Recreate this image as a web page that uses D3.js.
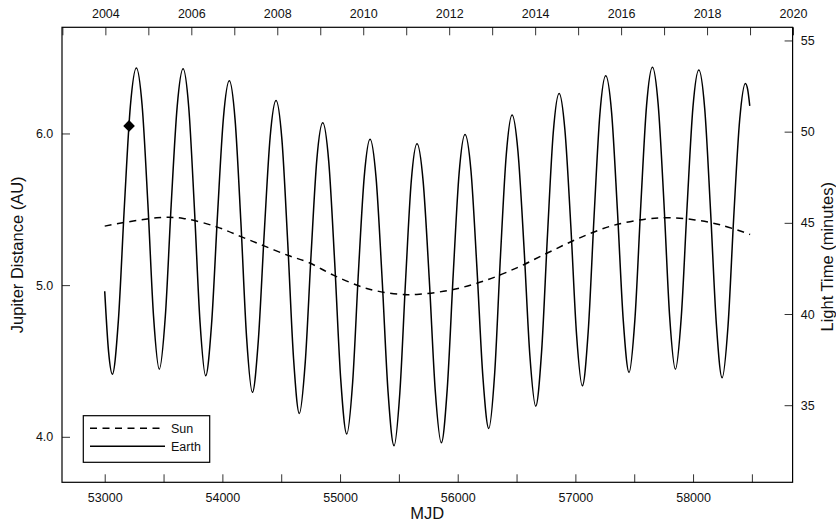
<!DOCTYPE html>
<html>
<head>
<meta charset="utf-8">
<script src="https://cdn.jsdelivr.net/npm/d3@7"></script>
<style>
  html, body { margin: 0; padding: 0; background: #fff; }
  svg { display: block; font-family: "Liberation Sans", Arial, Helvetica, sans-serif; }
</style>
</head>
<body>
<svg id="chart" width="836" height="524"></svg>
<script>
// ---------------- data ----------------
// Earth–Jupiter distance [MJD, AU]
const earthMJD = [
  53000, 53033, 53065, 53116, 53167, 53218, 53269, 53318, 53367, 53415,
  53464, 53515, 53565, 53616, 53666, 53714, 53762, 53810, 53858, 53908,
  53959, 54009, 54059, 54108, 54157, 54206, 54255, 54305, 54356, 54406,
  54456, 54506, 54555, 54605, 54654, 54704, 54754, 54803, 54853, 54904,
  54955, 55006, 55057, 55107, 55156, 55206, 55255, 55306, 55357, 55408,
  55459, 55508, 55557, 55605, 55654, 55706, 55758, 55809, 55861, 55911,
  55962, 56012, 56062, 56113, 56163, 56214, 56264, 56314, 56363, 56413,
  56462, 56512, 56563, 56613, 56663, 56713, 56763, 56812, 56862, 56911,
  56961, 57010, 57059, 57109, 57159, 57208, 57258, 57308, 57357, 57407,
  57456, 57506, 57556, 57605, 57655, 57704, 57753, 57801, 57850, 57900,
  57950, 57999, 58049, 58099, 58148, 58198, 58247, 58297, 58346, 58396,
  58445, 58464, 58482
];
const earthAU = [
  4.96, 4.56, 4.413, 4.766, 5.519, 6.180, 6.432, 6.184, 5.534, 4.794,
  4.446, 4.793, 5.531, 6.179, 6.426, 6.173, 5.511, 4.756, 4.402, 4.742,
  5.468, 6.104, 6.347, 6.090, 5.419, 4.652, 4.293, 4.630, 5.347, 5.977,
  6.217, 5.959, 5.285, 4.515, 4.154, 4.489, 5.204, 5.831, 6.070, 5.814,
  5.142, 4.377, 4.018, 4.358, 5.083, 5.719, 5.962, 5.709, 5.049, 4.295,
  3.941, 4.289, 5.032, 5.683, 5.932, 5.686, 5.041, 4.305, 3.960, 4.316,
  5.074, 5.739, 5.993, 5.751, 5.117, 4.394, 4.055, 4.417, 5.187, 5.863,
  6.121, 5.881, 5.254, 4.538, 4.202, 4.563, 5.332, 6.006, 6.264, 6.023,
  5.393, 4.673, 4.336, 4.694, 5.456, 6.125, 6.380, 6.136, 5.496, 4.766,
  4.424, 4.776, 5.527, 6.185, 6.437, 6.188, 5.537, 4.794, 4.446, 4.791,
  5.527, 6.172, 6.419, 6.165, 5.501, 4.744, 4.389, 4.729, 5.453, 6.087,
  6.330, 6.290, 6.182
];
// Sun–Jupiter distance [MJD, AU]
const sunMJD = [53000, 53442, 53668, 53952, 54164, 54354, 54561, 54731, 54943,
  55227, 55510, 55652, 55935, 56218, 56502, 56770, 57026, 57309, 57592, 57791,
  58017, 58244, 58485];
const sunAU = [5.389, 5.444, 5.440, 5.384, 5.318, 5.259, 5.195, 5.150, 5.066,
  4.978, 4.939, 4.939, 4.967, 5.026, 5.114, 5.215, 5.308, 5.391, 5.435, 5.444,
  5.430, 5.395, 5.334];
// marked point
const markerMJD = [53207];
const markerAU = [6.05];

// axes / ticks
const mjdMajorTicks = [53000, 54000, 55000, 56000, 57000, 58000];
const mjdMinorTicks = [53500, 54500, 55500, 56500, 57500, 58500];
const yearTicks = [2003, 2004, 2005, 2006, 2007, 2008, 2009, 2010, 2011,
  2012, 2013, 2014, 2015, 2016, 2017, 2018, 2019, 2020];
const yearLabels = [2004, 2006, 2008, 2010, 2012, 2014, 2016, 2018, 2020];
const auTicks = [4.0, 5.0, 6.0];
const lightTicks = [35, 40, 45, 50, 55];
const legendNames = ["Sun", "Earth"];
const xTitle = "MJD";
const yLeftTitle = "Jupiter Distance (AU)";
const yRightTitle = "Light Time (minutes)";
const MIN_PER_AU = 8.3167;   // light time of one AU in minutes

// ---------------- layout ----------------
const L = 62, R = 792.6, T = 27.3, B = 482.3;
const FONT = "Liberation Sans, Arial, Helvetica, sans-serif";
const svg = d3.select("#chart");

const x = d3.scaleLinear().domain([52637, 58846]).range([L, R]);
const yAU = d3.scaleLinear().domain([3.7, 6.7]).range([B, T]);
const yLT = d3.scaleLinear().domain([3.7 * MIN_PER_AU, 6.7 * MIN_PER_AU]).range([B, T]);
const mjdToYear = m => 2000 + (m - 51544.5) / 365.25;
const xYear = d3.scaleLinear().domain([mjdToYear(52637), mjdToYear(58846)]).range([L, R]);

function styleAxis(g, size) {
  g.select(".domain").remove();
  g.selectAll(".tick line").attr("stroke", "#333").attr("stroke-width", 1);
  g.selectAll(".tick text").attr("fill", "#111").attr("font-size", size).attr("font-family", FONT);
}

// bottom axis
const bottomVals = mjdMajorTicks.concat(mjdMinorTicks);
svg.append("g").attr("transform", `translate(0,${B})`)
  .call(d3.axisBottom(x).tickValues(bottomVals).tickSizeInner(-8).tickSizeOuter(0).tickPadding(10.8)
    .tickFormat(d => mjdMajorTicks.includes(d) ? String(d) : ""))
  .call(g => styleAxis(g, 12.5));

// top axis (years)
svg.append("g").attr("transform", `translate(0,${T})`)
  .call(d3.axisTop(xYear).tickValues(yearTicks).tickSizeInner(-8).tickSizeOuter(0).tickPadding(9.8)
    .tickFormat(d => yearLabels.includes(d) ? String(d) : ""))
  .call(g => styleAxis(g, 12.5));

// left axis (AU)
svg.append("g").attr("transform", `translate(${L},0)`)
  .call(d3.axisLeft(yAU).tickValues(auTicks).tickSizeInner(-8).tickSizeOuter(0).tickPadding(8.7)
    .tickFormat(d3.format(".1f")))
  .call(g => styleAxis(g, 12.5));

// right axis (light minutes)
svg.append("g").attr("transform", `translate(${R},0)`)
  .call(d3.axisRight(yLT).tickValues(lightTicks).tickSizeInner(-8).tickSizeOuter(0).tickPadding(8.2)
    .tickFormat(d3.format("d")))
  .call(g => styleAxis(g, 12.5));

// frame
svg.append("rect").attr("x", L).attr("y", T).attr("width", R - L).attr("height", B - T)
  .attr("fill", "none").attr("stroke", "#000").attr("stroke-width", 1.2);

// axis titles
svg.append("text").attr("x", (L + R) / 2).attr("y", 519).attr("text-anchor", "middle")
  .attr("font-size", 16.5).attr("font-family", FONT).attr("fill", "#111").text(xTitle);
svg.append("text").attr("transform", `translate(22.5,${(T + B) / 2}) rotate(-90)`)
  .attr("text-anchor", "middle").attr("font-size", 16.5).attr("font-family", FONT)
  .attr("fill", "#111").text(yLeftTitle);
svg.append("text").attr("transform", `translate(833.3,${(T + B) / 2 + 2}) rotate(-90)`)
  .attr("text-anchor", "middle").attr("font-size", 16.5).attr("font-family", FONT)
  .attr("fill", "#111").text(yRightTitle);

// series
const earth = earthMJD.map((m, i) => [m, earthAU[i]]);
const sun = sunMJD.map((m, i) => [m, sunAU[i]]);

const lineMono = d3.line().x(d => x(d[0])).y(d => yAU(d[1])).curve(d3.curveMonotoneX);
const lineSmooth = d3.line().x(d => x(d[0])).y(d => yAU(d[1])).curve(d3.curveCatmullRom.alpha(0.5));

svg.append("path").datum(sun).attr("d", lineSmooth)
  .attr("fill", "none").attr("stroke", "#000").attr("stroke-width", 1.5)
  .attr("stroke-dasharray", "7,5.5");
svg.append("path").datum(earth).attr("d", lineMono)
  .attr("fill", "none").attr("stroke", "#000").attr("stroke-width", 1.5)
  .attr("stroke-linejoin", "round");

// marker (diamond)
svg.selectAll("path.marker").data(markerMJD.map((m, i) => [m, markerAU[i]])).enter()
  .append("path").attr("class", "marker")
  .attr("d", d3.symbol(d3.symbolSquare, 68))
  .attr("transform", d => `translate(${x(d[0])},${yAU(d[1])}) rotate(45)`)
  .attr("fill", "#000");

// legend
const lg = svg.append("g");
lg.append("rect").attr("x", 83.3).attr("y", 415.7).attr("width", 126.4).attr("height", 46.6)
  .attr("fill", "#fff").attr("stroke", "#000").attr("stroke-width", 1.2);
const legendStyles = [
  { dash: "7,5.5", y: 428.3, x2: 162 },
  { dash: null, y: 446.3, x2: 165 }
];
legendNames.forEach((name, i) => {
  const s = legendStyles[i];
  lg.append("line").attr("x1", 90).attr("x2", s.x2).attr("y1", s.y).attr("y2", s.y)
    .attr("stroke", "#000").attr("stroke-width", 1.5)
    .attr("stroke-dasharray", s.dash);
  lg.append("text").attr("x", 171).attr("y", s.y + 4.3)
    .attr("font-size", 12.5).attr("font-family", FONT).attr("fill", "#111").text(name);
});
</script>
</body>
</html>
